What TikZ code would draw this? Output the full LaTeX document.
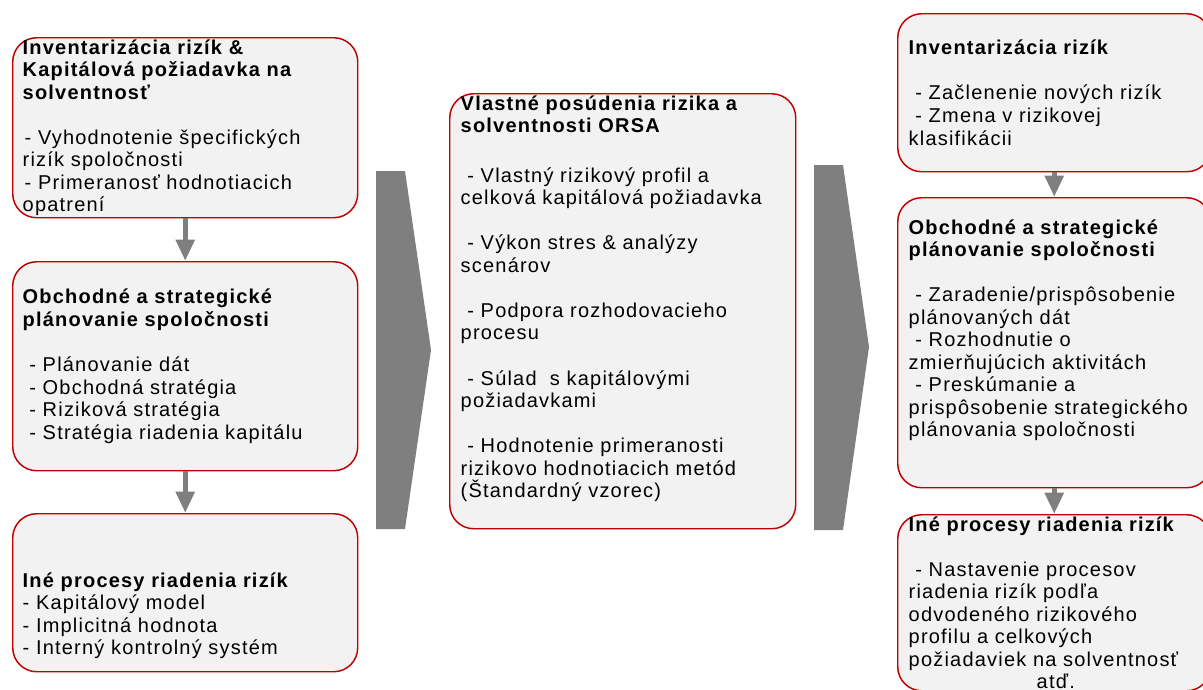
\documentclass[tikz,border=0pt]{standalone}
\usepackage{fontspec}
\setmainfont{Liberation Sans}[LetterSpace=6]
\usetikzlibrary{positioning, arrows.meta}

\definecolor{boxred}{HTML}{C00000}
\definecolor{boxfill}{HTML}{F2F2F2}
\definecolor{flowgray}{HTML}{7F7F7F}

\newcommand{\ind}{\hspace*{5pt}}

\begin{document}
\begin{tikzpicture}[x=0.75pt, y=-0.75pt,
    box/.style={draw=boxred, fill=boxfill, line width=1.1pt, rounded corners=18pt,
        anchor=north west, align=left, inner ysep=0pt,
        font=\fontsize{15}{16.9}\selectfont},
    leftbox/.style={box, inner xsep=7.5pt, text width=243.75pt},
    midbox/.style={box, inner xsep=8.25pt, text width=243pt},
    rightbox/.style={box, inner xsep=8.25pt, text width=218.25pt},
    flow/.style={draw=flowgray, line width=4pt, -{Triangle[width=13.5pt,length=16pt]}},
    chevron/.style={fill=flowgray}]
    \useasboundingbox (0,0) rectangle (1203,689);
    \clip (0,0) rectangle (1203,689);

    % Left column: current state
    \node[leftbox, minimum height=135pt] (L-1) at (12,37) {%
        \textbf{Inventarizácia rizík \&}\\
        \textbf{Kapitálová požiadavka na}\\
        \textbf{solventnosť}\\[\baselineskip]
        \hspace*{1.5pt}- Vyhodnotenie špecifických\\
        rizík spoločnosti\\
        \hspace*{1.5pt}- Primeranosť hodnotiacich\\
        opatrení};
    \node[leftbox, minimum height=156.75pt] (L-2) at (12,261) {%
        \textbf{Obchodné a strategické}\\
        \textbf{plánovanie spoločnosti}\\[\baselineskip]
        \ind- Plánovanie dát\\
        \ind- Obchodná stratégia\\
        \ind- Riziková stratégia\\
        \ind- Stratégia riadenia kapitálu};
    \node[leftbox, minimum height=118.5pt] (L-3) at (12,513) {%
        \strut\\
        \strut\\
        \textbf{Iné procesy riadenia rizík}\\
        - Kapitálový model\\
        - Implicitná hodnota\\
        - Interný kontrolný systém};

    \draw[flow] (L-1.south) -- (L-2.north);
    \draw[flow] (L-2.south) -- (L-3.north);

    % Chevrons between the columns
    \fill[chevron] (376,171) -- (405,171) -- (431,350) -- (405,529) -- (376,529) -- cycle;
    \fill[chevron] (814,165) -- (843,165) -- (869,347) -- (843,530) -- (814,530) -- cycle;

    % Middle: ORSA
    \node[midbox, minimum height=326.25pt] (ORSA) at (449,93) {%
        \textbf{Vlastné posúdenia rizika a}\\
        \textbf{solventnosti ORSA}\\[1.2\baselineskip]
        \ind- Vlastný rizikový profil a\\
        celková kapitálová požiadavka\\[\baselineskip]
        \ind- Výkon stres \& analýzy\\
        scenárov\\[\baselineskip]
        \ind- Podpora rozhodovacieho\\
        procesu\\[\baselineskip]
        \ind- Súlad\ \ s kapitálovými\\
        požiadavkami\\[\baselineskip]
        \ind- Hodnotenie primeranosti\\
        rizikovo hodnotiacich metód\\
        (Štandardný vzorec)\\
        \strut};

    % Right column: consequences
    \node[rightbox, minimum height=118.5pt] (R-1) at (897,13) {%
        \textbf{Inventarizácia rizík}\\[\baselineskip]
        \ind- Začlenenie nových rizík\\
        \ind- Zmena v rizikovej\\
        klasifikácii};
    \node[rightbox, minimum height=217.5pt] (R-2) at (897,197) {%
        \textbf{Obchodné a strategické}\\
        \textbf{plánovanie spoločnosti}\\[\baselineskip]
        \ind- Zaradenie/prispôsobenie\\
        plánovaných dát\\
        \ind- Rozhodnutie o\\
        zmierňujúcich aktivitách\\
        \ind- Preskúmanie a\\
        prispôsobenie strategického\\
        plánovania spoločnosti\\
        \strut};
    \node[rightbox, minimum height=132pt] (R-3) at (897,514) {%
        \textbf{Iné procesy riadenia rizík}\\[\baselineskip]
        \ind- Nastavenie procesov\\
        riadenia rizík podľa\\
        odvodeného rizikového\\
        profilu a celkových\\
        požiadaviek na solventnosť\\
        \hspace*{96pt}atď.};

    \draw[flow] (R-1.south) -- (R-2.north);
    \draw[flow] (R-2.south) -- (R-3.north);
\end{tikzpicture}
\end{document}
